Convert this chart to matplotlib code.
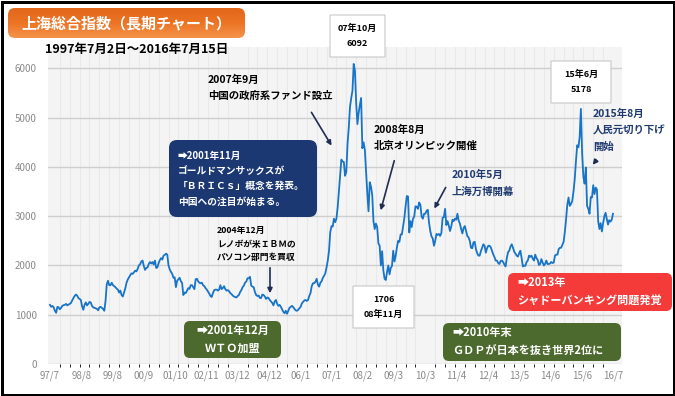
import matplotlib
matplotlib.use("Agg")
import matplotlib.pyplot as plt
from matplotlib.patches import FancyBboxPatch, FancyArrowPatch, Rectangle
from matplotlib.transforms import Affine2D
from matplotlib.colors import LinearSegmentedColormap
import numpy as np

plt.rcParams['font.family'] = ['Noto Sans CJK JP', 'DejaVu Sans']

# ---- data: Shanghai Composite, semi-monthly readings from 1997/7 ----
y1997 = [1200, 1160, 1180, 1150, 1080, 1040, 1160, 1150, 1110, 1140, 1180, 1195]
y1998 = [1200, 1220, 1190, 1205, 1220, 1240, 1290, 1340, 1380, 1410, 1390, 1340,
         1320, 1300, 1170, 1100, 1200, 1250, 1190, 1220, 1260, 1250, 1180, 1150]
y1999 = [1140, 1130, 1120, 1090, 1150, 1160, 1140, 1120, 1080, 1280, 1620, 1690,
         1600, 1600, 1650, 1600, 1580, 1560, 1530, 1510, 1450, 1490, 1400, 1370]
y2000 = [1450, 1535, 1650, 1715, 1760, 1800, 1840, 1830, 1860, 1895, 1880, 1930,
         2000, 2025, 2080, 2100, 1990, 1910, 1950, 1960, 2030, 2070, 2040, 2070]
y2001 = [2020, 2100, 1950, 1960, 2050, 2110, 2150, 2120, 2200, 2215, 2240, 2220,
         2000, 1920, 1870, 1830, 1750, 1760, 1560, 1690, 1720, 1750, 1680, 1645]
y2002 = [1400, 1450, 1440, 1490, 1540, 1525, 1600, 1600, 1560, 1520, 1720, 1730,
         1680, 1650, 1640, 1650, 1600, 1580, 1540, 1510, 1470, 1430, 1380, 1360]
y2003 = [1440, 1500, 1510, 1510, 1490, 1510, 1600, 1520, 1540, 1580, 1520, 1490,
         1500, 1480, 1440, 1420, 1390, 1370, 1360, 1350, 1380, 1400, 1460, 1500]
y2004 = [1560, 1590, 1650, 1675, 1740, 1740, 1770, 1590, 1570, 1560, 1460, 1400,
         1380, 1390, 1340, 1340, 1410, 1400, 1370, 1320, 1350, 1340, 1300, 1270]
y2005 = [1240, 1190, 1270, 1300, 1220, 1180, 1200, 1160, 1110, 1060, 1030, 1080,
         1020, 1080, 1140, 1160, 1180, 1155, 1120, 1090, 1080, 1100, 1130, 1160]
y2006 = [1230, 1260, 1290, 1300, 1280, 1300, 1380, 1440, 1580, 1640, 1640, 1670,
         1730, 1610, 1570, 1650, 1680, 1750, 1790, 1840, 1960, 2100, 2300, 2675]
y2007 = [2800, 2790, 2950, 2880, 2950, 3180, 3500, 3840, 4150, 4110, 4100, 3820,
         3900, 4470, 4800, 5220, 5400, 5550, 6092, 5950, 5300, 4870, 5100, 5260]
y2008 = [5400, 4380, 4500, 4350, 3900, 3470, 3100, 3690, 3600, 3430, 2900, 2740,
         2850, 2780, 2450, 2400, 2000, 2290, 1900, 1730, 1706, 1870, 2000, 1820]
y2009 = [1950, 1990, 2300, 2080, 2200, 2370, 2500, 2480, 2630, 2630, 2800, 2960,
         3200, 3410, 3400, 2670, 2900, 2780, 2950, 2990, 3200, 3195, 3150, 3280]
y2010 = [3230, 2990, 2950, 3050, 3050, 3110, 3130, 2870, 2700, 2590, 2550, 2400,
         2500, 2640, 2620, 2640, 2600, 2660, 2970, 2980, 3150, 2820, 2900, 2810]
y2011 = [2700, 2790, 2930, 2900, 2950, 2930, 3050, 2910, 2850, 2740, 2650, 2760,
         2800, 2700, 2600, 2570, 2500, 2360, 2350, 2470, 2480, 2330, 2250, 2200]
y2012 = [2200, 2290, 2360, 2430, 2400, 2260, 2350, 2400, 2400, 2370, 2300, 2225,
         2170, 2100, 2100, 2050, 2030, 2090, 2100, 2070, 2020, 1980, 2150, 2270]
y2013 = [2300, 2385, 2430, 2360, 2280, 2240, 2200, 2180, 2250, 2300, 2150, 1980,
         2000, 1990, 2070, 2100, 2200, 2175, 2200, 2140, 2100, 2220, 2150, 2115]
y2014 = [2010, 2030, 2130, 2060, 2000, 2030, 2100, 2030, 2030, 2040, 2070, 2050,
         2060, 2200, 2220, 2220, 2330, 2360, 2360, 2420, 2480, 2680, 2940, 3235]
y2015 = [3380, 3210, 3250, 3310, 3500, 3750, 4120, 4440, 4400, 4610, 5178, 4280,
         3800, 3660, 3990, 3210, 3150, 3050, 3390, 3380, 3630, 3450, 3580, 3540]
y2016 = [2900, 2740, 2860, 2690, 2860, 3000, 3070, 2940, 2830, 2920, 2890, 2930, 3050]

x_labels = ["97/7", "98/8", "99/8", "00/9", "01/10", "02/11", "03/12", "04/12", "06/1",
            "07/1", "08/2", "09/3", "10/3", "11/4", "12/4", "13/5", "14/6", "15/6", "16/7"]
y_ticks = [0, 1000, 2000, 3000, 4000, 5000, 6000]

values = np.array(y1997 + y1998 + y1999 + y2000 + y2001 + y2002 + y2003 + y2004 +
                  y2005 + y2006 + y2007 + y2008 + y2009 + y2010 + y2011 + y2012 +
                  y2013 + y2014 + y2015 + y2016, dtype=float)
t = np.arange(len(values)) * 0.5  # months since 1997/7
t_end = t[-1]

W, H = 675, 396
fig = plt.figure(figsize=(W / 100, H / 100), dpi=100)
fig.patch.set_facecolor('white')

# pixel transform (origin bottom-left, px units)
px = Affine2D().scale(0.01) + fig.dpi_scale_trans


def Y(y):
    return H - y


# axes
ax = fig.add_axes([48 / W, 1 - 364 / H, (622 - 48) / W, (364 - 47) / H])
ax.set_facecolor('#f4f4f4')
ax.plot(t, values, color='#1874c6', lw=1.3, zorder=3)
ax.set_xlim(-0.8, t_end + (622 - 613) / 2.469)
ax.set_ylim(0, (364 - 47) * 20.3)
ax.set_yticks(y_ticks)
ax.set_yticklabels([str(v) for v in y_ticks])
ax.set_xticks(np.linspace(0, t_end, len(x_labels)))
ax.set_xticklabels(x_labels)
ax.set_xticks(np.arange(0, t_end + 4, 4), minor=True)
ax.tick_params(axis='both', length=0, labelsize=7, colors='#8a8a8a')
ax.tick_params(axis='x', pad=5)
ax.tick_params(axis='y', pad=8)
for s in ax.spines.values():
    s.set_visible(False)
ax.grid(axis='y', which='major', color='#cfcfcf', lw=1.0, zorder=1)
ax.grid(axis='x', which='minor', color='#e9e9e9', lw=0.8, zorder=0)
ax.set_axisbelow(True)


def box(x0, y0, x1, y1, fc, ec='none', r=6, lw=0.8, z=5):
    p = FancyBboxPatch((x0, Y(y1)), x1 - x0, y1 - y0,
                       boxstyle=f"round,pad=0,rounding_size={r}",
                       transform=px, fc=fc, ec=ec, lw=lw, zorder=z)
    fig.add_artist(p)
    return p


def txt(x, y, s, size=7.5, color='black', ha='left', va='center', weight='bold', ls=1.6):
    fig.text(x, Y(y), s, transform=px, fontsize=size, color=color, ha=ha, va=va,
             fontweight=weight, linespacing=ls, zorder=10)


def arrow(x0, y0, x1, y1, color='#1f2d55'):
    a = FancyArrowPatch((x0, Y(y0)), (x1, Y(y1)), transform=px, arrowstyle='-|>',
                        mutation_scale=7, color=color, lw=1.2, zorder=9)
    fig.add_artist(a)


# frame
fig.add_artist(Rectangle((1.5, 1.5), W - 3, H - 3, transform=px, fill=False,
                         ec='black', lw=3 * 0.72, zorder=20))

# title box with vertical gradient
tb = box(8, 8, 245, 38, 'none', r=7)
grad = np.linspace(0, 1, 64).reshape(-1, 1)
cmap = LinearSegmentedColormap.from_list('og', ['#f5934a', '#ec7424', '#e2661a'])
gax = fig.add_axes([0, 0, 1, 1], zorder=4)
gax.set_axis_off()
gax.set_xlim(0, W)
gax.set_ylim(0, H)
im = gax.imshow(grad, cmap=cmap, extent=[8, 245, Y(8), Y(38)], aspect='auto',
                origin='upper', zorder=4)
tbclip = FancyBboxPatch((8, Y(38)), 237, 30, boxstyle="round,pad=0,rounding_size=7",
                        transform=gax.transData, fc='none', ec='none')
gax.add_patch(tbclip)
im.set_clip_path(tbclip)
txt(126, 23, "上海総合指数（長期チャート）", size=10.8, color='white', ha='center')
txt(45, 49, "1997年7月2日～2016年7月15日", size=9)

# value boxes
box(330, 15, 385, 57, 'white', ec='#c8c8c8', r=0)
txt(357.5, 36, "07年10月\n6092", size=6.5, ha='center', ls=1.9)
box(551, 61, 611, 103, 'white', ec='#c8c8c8', r=0)
txt(581, 82, "15年6月\n5178", size=6.5, ha='center', ls=1.9)
box(353, 286, 414, 328, 'white', ec='#c8c8c8', r=0)
txt(383.5, 307, "1706\n08年11月", size=6.5, ha='center', ls=1.9)

# navy box
box(169, 140, 317, 217, '#1b3872', r=8)
txt(178, 178.5, "➡2001年11月\nゴールドマンサックスが\n「ＢＲＩＣｓ」概念を発表。\n中国への注目が始まる。",
    size=7, color='white', ls=1.65)

# green boxes
box(184, 321, 281, 358, '#4d6a2e', r=6)
txt(232.5, 339.5, "➡2001年12月\nＷＴＯ加盟", size=8, color='white', ha='center', ls=1.55)
box(443, 323, 621, 361, '#4d6a2e', r=6)
txt(452, 342, "➡2010年末\nＧＤＰが日本を抜き世界2位に", size=8, color='white', ls=1.55)

# red box
box(508, 273, 672, 311, '#f53a3a', r=6)
txt(517, 292, "➡2013年\nシャドーバンキング問題発覚", size=8, color='white', ls=1.55)

# text annotations with arrows
txt(208, 88, "2007年9月\n中国の政府系ファンド設立", size=7.5, ls=1.75)
arrow(310, 110, 333, 148)
txt(217, 244, "2004年12月\nレノボが米ＩＢＭの\nパソコン部門を買収", size=6.3, ls=1.7)
arrow(270, 265, 270, 296)
txt(374, 138, "2008年8月\n北京オリンピック開催", size=7.5, ls=1.75)
arrow(395, 158, 380, 213)
txt(452, 183, "2010年5月\n上海万博開幕", size=7.5, color='#1f3a70', ls=1.75)
arrow(447, 185, 433, 211)
txt(593, 130, "2015年8月\n人民元切り下げ\n開始", size=7.5, color='#1f3a70', ls=1.75)
arrow(598, 158, 591, 167)

fig.savefig("out.png", dpi=100)
